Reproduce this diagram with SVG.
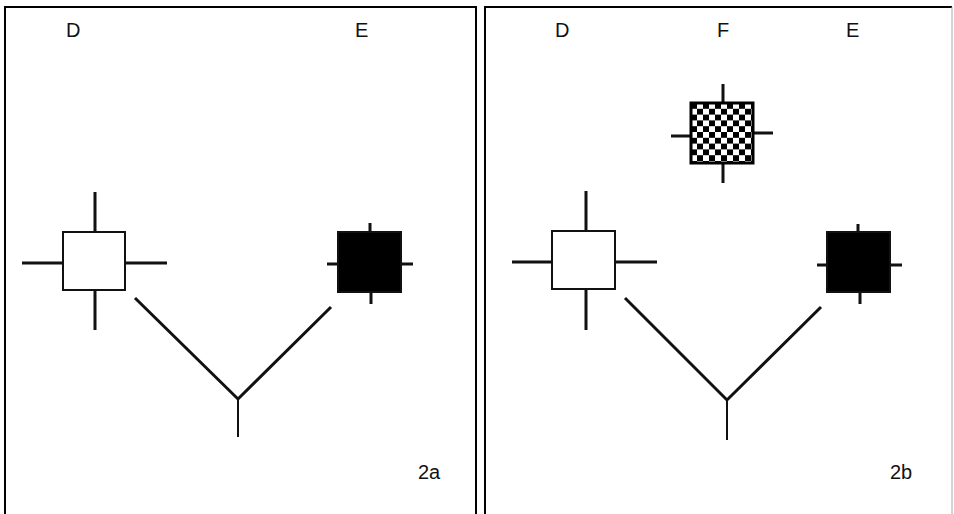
<svg xmlns="http://www.w3.org/2000/svg" width="954" height="514" viewBox="0 0 954 514">
<style>
.frame{fill:none;stroke:#000;stroke-width:2}
.arm{stroke:#111;stroke-width:3;fill:none}
.box{stroke:#111;stroke-width:2}
.conn{stroke:#111;stroke-width:3;fill:none}
.stem{stroke:#111;stroke-width:2;fill:none}
text{font-family:"Liberation Sans",Arial,sans-serif;font-size:20px;fill:#111}
</style>
<defs>
<pattern id="chk" patternUnits="userSpaceOnUse" x="691" y="103" width="12" height="11.6">
<rect width="12" height="11.6" fill="#fff"/>
<rect width="6" height="5.8" fill="#000"/>
<rect x="6" y="5.8" width="6" height="5.8" fill="#000"/>
</pattern>
</defs>
<rect width="954" height="514" fill="#fff"/>
<g id="frames">
<path class="frame" d="M5,514 V7 H476 V514"/>
<path class="frame" d="M485,514 V7 H952"/>
<path d="M952,7 V514" stroke="#aaa" stroke-width="1"/>
</g>
<g id="labels">
<text x="66" y="37">D</text>
<text x="355" y="37">E</text>
<text x="418" y="479">2a</text>
<text x="555" y="37">D</text>
<text x="717" y="37">F</text>
<text x="846" y="37">E</text>
<text x="890" y="479">2b</text>
</g>
<g id="connectors">
<path class="conn" d="M135,298 L238,399 L331,307"/>
<path class="stem" d="M238,399 V437"/>
<path class="conn" d="M625,298 L727,400 L821,307"/>
<path class="stem" d="M727,400 V440"/>
</g>
<g id="node-D-a">
<path class="arm" d="M95,192 V232 M95,290 V330 M22,263 H62 M125,263 H167"/>
<rect class="box" x="63" y="232" width="62" height="58" fill="#fff"/>
</g>
<g id="node-E-a">
<path class="arm" d="M370,223 V232 M371,292 V304 M327,264 H338 M401,264 H413"/>
<rect class="box" x="338" y="232" width="63" height="60" fill="#000"/>
</g>
<g id="node-D-b">
<path class="arm" d="M586,191 V231 M586,289 V330 M512,262 H552 M615,262 H657"/>
<rect class="box" x="552" y="231" width="63" height="58" fill="#fff"/>
</g>
<g id="node-F-b">
<path class="arm" d="M723,84 V103 M723,163 V183 M671,136 H691 M753,133 H773"/>
<rect x="691" y="103" width="62" height="60" fill="url(#chk)" stroke="#000" stroke-width="3"/>
</g>
<g id="node-E-b">
<path class="arm" d="M858,224 V232 M860,292 V304 M817,265 H827 M890,265 H902"/>
<rect class="box" x="827" y="232" width="63" height="60" fill="#000"/>
</g>
</svg>
